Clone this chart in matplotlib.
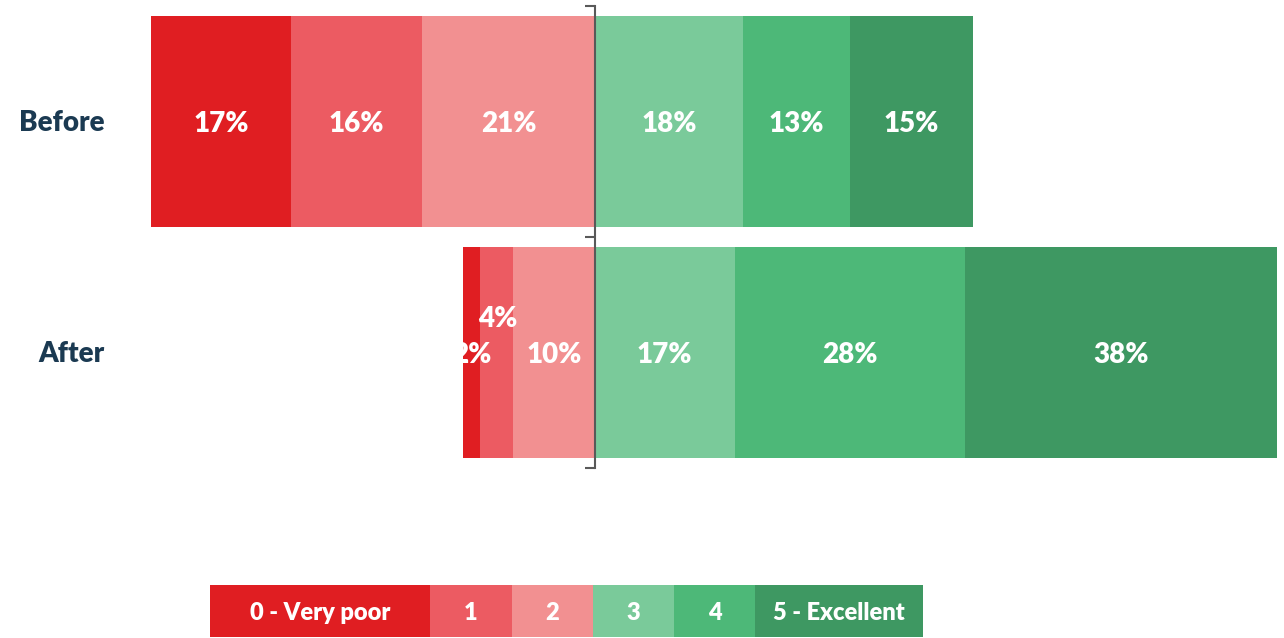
import matplotlib.pyplot as plt
import numpy as np

# chart data
groups = ['Before', 'After']
ratings = ['0 - Very poor', '1', '2', '3', '4', '5 - Excellent']
before = [17, 16, 21, 18, 13, 15]
after = [2, 4, 10, 17, 28, 38]
colors = ['#E01E22', '#EC5B62', '#F29091', '#7ACA9A', '#4DB878', '#3E9862']

plt.rcParams['font.family'] = ['Lato', 'DejaVu Sans']

W, H = 1284, 638
fig = plt.figure(figsize=(W / 100, H / 100), dpi=100)

# main axes placed in pixel terms
left, right, top, bottom = 151, 1278, 6, 468
ax = fig.add_axes([left / W, (H - bottom) / H, (right - left) / W, (bottom - top) / H])

values = np.array([before, after])
ypos = [1, 0]
for row, y in zip(values, ypos):
    neg = row[:3]
    pos = row[3:]
    # negative side: start from centre and go left
    start = 0
    for i in [2, 1, 0]:
        start -= neg[i]
        ax.barh(y, neg[i], left=start, height=0.91, color=colors[i], edgecolor='none')
        ax.text(start + neg[i] / 2, y - 0.01, f'{neg[i]}%', ha='center', va='center',
                color='white', fontsize=20, fontweight='heavy')
    start = 0
    for j, v in enumerate(pos):
        ax.barh(y, v, left=start, height=0.91, color=colors[3 + j], edgecolor='none')
        ax.text(start + v / 2, y - 0.01, f'{v}%', ha='center', va='center',
                color='white', fontsize=20, fontweight='heavy')
        start += v

# small label nudge for the crowded "4%" on the After bar
for t in ax.texts:
    if t.get_text() == '4%' and abs(t.get_position()[1]) < 0.05:
        t.set_position((t.get_position()[0] + 0.2, 0.145))

ax.set_xlim(-54, 83.1)
ax.set_ylim(-0.5, 1.5)
for s in ['top', 'right', 'bottom']:
    ax.spines[s].set_visible(False)
ax.spines['left'].set_position(('data', 0))
ax.spines['left'].set_color('#595959')
ax.spines['left'].set_linewidth(1.5)
ax.set_xticks([])
ax.set_yticks([-0.5, 0.5, 1.5])
ax.set_yticklabels([])
ax.tick_params(axis='y', direction='out', length=7, width=1.5, color='#595959')

for g, y in zip(groups, ypos):
    fig.text(105 / W, 1 - (123 + (1 - y) * 231) / H, g, ha='right', va='center',
             fontsize=20, fontweight='heavy', color='#1B3A52')

# legend strip
lx0, lx1, ly0, ly1 = 210, 923, 585, 637
lax = fig.add_axes([lx0 / W, (H - ly1) / H, (lx1 - lx0) / W, (ly1 - ly0) / H])
widths = [220, 82, 81, 81, 81, 168]
x = 0
for lab, w, c in zip(ratings, widths, colors):
    lax.barh(0, w, left=x, height=1, color=c, edgecolor='none')
    lax.text(x + w / 2, -0.04, lab, ha='center', va='center', color='white',
             fontsize=17, fontweight='heavy')
    x += w
lax.set_xlim(0, sum(widths))
lax.set_ylim(-0.5, 0.5)
lax.axis('off')

fig.savefig('out.png', dpi=100)
